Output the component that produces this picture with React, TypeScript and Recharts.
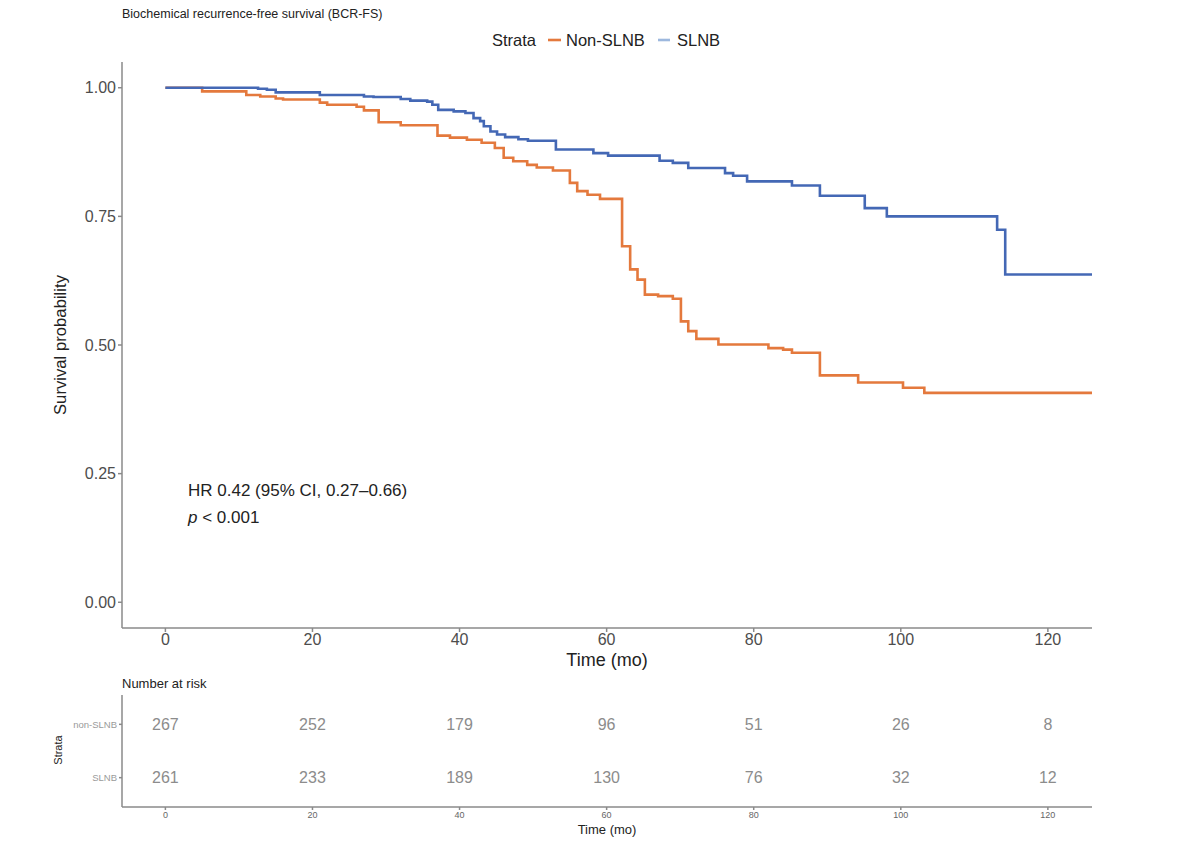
import React from "react";
import {
  LineChart,
  Line,
  XAxis,
  YAxis,
  ScatterChart,
  Scatter,
} from "recharts";

// Kaplan–Meier step points (time in months, survival probability)
const nonSlnbTimes = [
  0, 5, 11, 12.9, 15, 16, 21, 22, 26, 27, 29, 32, 37, 38.7, 41, 43, 44.8, 46, 47.3, 49.2,
  50.5, 52.7, 55, 56, 57.4, 59.1, 62.1, 63.2, 64.2, 65.2, 67, 69, 70.1, 71.1, 72.2, 75.2,
  82, 84, 85.2, 89, 94.2, 100.3, 103.2, 126,
];
const nonSlnbSurv = [
  1, 0.993, 0.986, 0.983, 0.979, 0.977, 0.971, 0.967, 0.963, 0.956, 0.933, 0.927, 0.907,
  0.903, 0.899, 0.893, 0.883, 0.864, 0.857, 0.85, 0.845, 0.839, 0.815, 0.799, 0.792, 0.784,
  0.692, 0.647, 0.627, 0.598, 0.595, 0.59, 0.546, 0.527, 0.512, 0.501, 0.494, 0.491, 0.485,
  0.441, 0.427, 0.417, 0.407, 0.407,
];
const slnbTimes = [
  0, 12.6, 13.8, 15, 21, 27, 28.3, 32, 33.3, 35.6, 36.3, 37.1, 39.2, 40.8, 41.9, 42.8, 43.3,
  44.2, 45.1, 46.2, 48, 49.3, 53.1, 58.2, 60.2, 67.2, 69, 71.1, 76.1, 77.2, 79.1, 85.2, 89,
  95.1, 98.1, 113.1, 114.2, 126,
];
const slnbSurv = [
  1, 0.998, 0.996, 0.991, 0.986, 0.983, 0.982, 0.978, 0.975, 0.973, 0.967, 0.957, 0.954,
  0.951, 0.941, 0.935, 0.925, 0.915, 0.909, 0.904, 0.9, 0.897, 0.88, 0.873, 0.868, 0.858,
  0.854, 0.844, 0.834, 0.829, 0.818, 0.81, 0.79, 0.766, 0.75, 0.724, 0.637, 0.637,
];

const timeTicks = [0, 20, 40, 60, 80, 100, 120];
const survTicks = [0, 0.25, 0.5, 0.75, 1];

// number-at-risk table
const riskTimes = [0, 20, 40, 60, 80, 100, 120];
const riskNonSlnb = [267, 252, 179, 96, 51, 26, 8];
const riskSlnb = [261, 233, 189, 130, 76, 32, 12];

const ORANGE = "#E4793D";
const BLUE = "#4468B5";
const AXIS = "#8a8a8a";
const FONT = "'Liberation Sans', Arial, Helvetica, sans-serif";

const nonSlnbData = nonSlnbTimes.map((t, i) => ({ t, s: nonSlnbSurv[i] }));
const slnbData = slnbTimes.map((t, i) => ({ t, s: slnbSurv[i] }));
const riskNonData = riskTimes.map((t, i) => ({ t, row: 2, n: riskNonSlnb[i] }));
const riskSlnbData = riskTimes.map((t, i) => ({ t, row: 1, n: riskSlnb[i] }));

const riskCell = (props: any) => (
  <text
    x={props.cx}
    y={props.cy}
    dy="0.36em"
    textAnchor="middle"
    fontSize={16}
    fill="#8c8c8c"
  >
    {props.payload.n}
  </text>
);

export default function App() {
  return (
    <div
      style={{
        position: "absolute",
        left: 0,
        top: 0,
        width: 1200,
        height: 853,
        background: "#fff",
        fontFamily: FONT,
      }}
    >
      <div style={{ position: "absolute", left: 0, top: 0 }}>
        <LineChart
          width={1200}
          height={680}
          margin={{ top: 62, right: 108, bottom: 12, left: 62 }}
        >
          <XAxis
            type="number"
            dataKey="t"
            domain={[-5.9, 126]}
            ticks={timeTicks}
            allowDataOverflow
            height={40}
            tickSize={4}
            stroke={AXIS}
            strokeWidth={1.5}
            tick={{ fontSize: 16, fill: "#4d4d4d" }}
          />
          <YAxis
            type="number"
            domain={[-0.05, 1.05]}
            ticks={survTicks}
            allowDataOverflow
            width={60}
            tickSize={4}
            stroke={AXIS}
            strokeWidth={1.5}
            tickFormatter={(v: number) => v.toFixed(2)}
            tick={{ fontSize: 16, fill: "#4d4d4d" }}
          />
          <Line
            data={nonSlnbData}
            dataKey="s"
            type="stepAfter"
            stroke={ORANGE}
            strokeWidth={2.6}
            dot={false}
            isAnimationActive={false}
          />
          <Line
            data={slnbData}
            dataKey="s"
            type="stepAfter"
            stroke={BLUE}
            strokeWidth={2.6}
            dot={false}
            isAnimationActive={false}
          />
        </LineChart>
      </div>

      <div style={{ position: "absolute", left: 0, top: 670 }}>
        <ScatterChart
          width={1200}
          height={175}
          margin={{ top: 25, right: 108, bottom: 8, left: 62 }}
        >
          <XAxis
            type="number"
            dataKey="t"
            domain={[-5.9, 126]}
            ticks={riskTimes}
            allowDataOverflow
            height={30}
            tickSize={3}
            stroke={AXIS}
            strokeWidth={1.5}
            tick={{ fontSize: 9, fill: "#666" }}
          />
          <YAxis
            type="number"
            dataKey="row"
            domain={[0.45, 2.55]}
            ticks={[1, 2]}
            width={60}
            tickSize={3}
            stroke={AXIS}
            strokeWidth={1.5}
            tickFormatter={(v: number) => (v === 2 ? "non-SLNB" : "SLNB")}
            tick={{ fontSize: 9.5, fill: "#9a9a9a" }}
          />
          <Scatter data={riskNonData} shape={riskCell} isAnimationActive={false} />
          <Scatter data={riskSlnbData} shape={riskCell} isAnimationActive={false} />
        </ScatterChart>
      </div>

      {/* titles, legend and annotation */}
      <svg
        width={1200}
        height={853}
        style={{ position: "absolute", left: 0, top: 0, pointerEvents: "none" }}
        fontFamily={FONT}
      >
        <text x={122} y={18} fontSize={12.5} fill="#222">
          Biochemical recurrence-free survival (BCR-FS)
        </text>

        <text x={492} y={46} fontSize={16.5} fill="#222">Strata</text>
        <line x1={548} x2={561} y1={40} y2={40} stroke={ORANGE} strokeWidth={2.6} />
        <text x={566} y={46} fontSize={16.5} fill="#222">Non-SLNB</text>
        <line x1={658} x2={670} y1={40} y2={40} stroke="#9db8de" strokeWidth={2.6} />
        <text x={677} y={46} fontSize={16.5} fill="#222">SLNB</text>

        <text
          x={66}
          y={345}
          fontSize={16.7}
          fill="#222"
          textAnchor="middle"
          transform="rotate(-90 66 345)"
        >
          Survival probability
        </text>

        <text x={188} y={496} fontSize={17} fill="#222">
          HR 0.42 (95% CI, 0.27–0.66)
        </text>
        <text x={188} y={523} fontSize={17} fill="#222">
          <tspan fontStyle="italic">p</tspan> &lt; 0.001
        </text>

        <text x={607} y={666} fontSize={18} fill="#222" textAnchor="middle">
          Time (mo)
        </text>

        <text x={122} y={688} fontSize={13} fill="#222">Number at risk</text>
        <text
          x={62}
          y={750}
          fontSize={11}
          fill="#222"
          textAnchor="middle"
          transform="rotate(-90 62 750)"
        >
          Strata
        </text>
        <text x={607} y={834} fontSize={13} fill="#222" textAnchor="middle">
          Time (mo)
        </text>
      </svg>
    </div>
  );
}
